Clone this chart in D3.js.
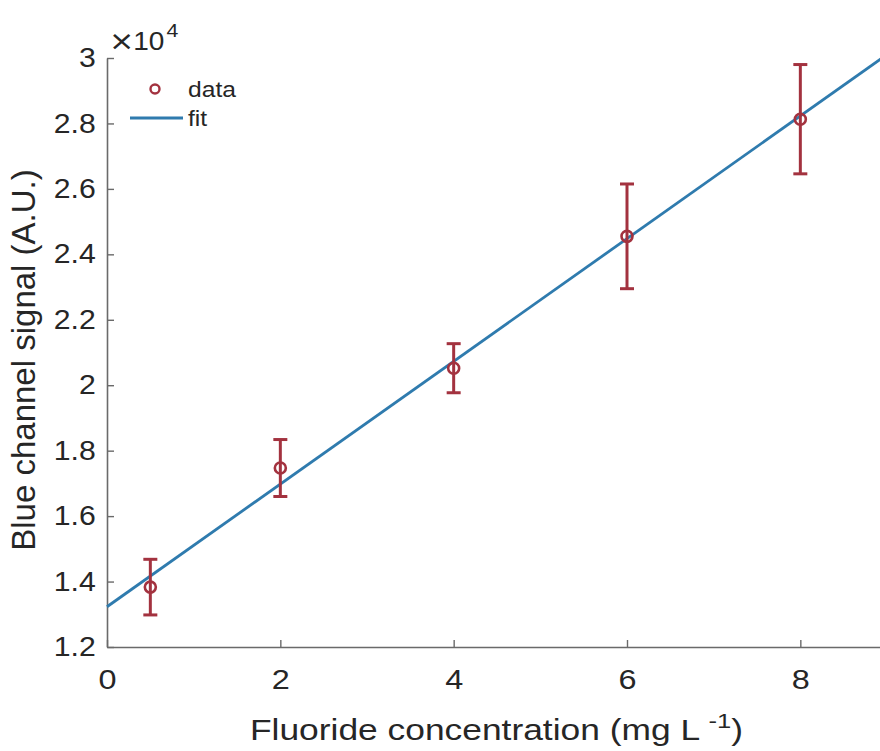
<!DOCTYPE html>
<html><head><meta charset="utf-8">
<script src="https://cdn.jsdelivr.net/npm/d3@7"></script>
<style>body{margin:0;background:#fff}svg{display:block}text{font-family:"Liberation Sans",Arial,Helvetica,sans-serif;fill:#262626}</style>
</head><body><svg id="c" width="880" height="751"></svg>
<script>
const concentrations = [0.5, 2, 4, 6, 8];
const signals = [1.383, 1.747, 2.052, 2.455, 2.813]; // x10^4
const errors = [0.085, 0.087, 0.075, 0.16, 0.167];
const fitIntercept = 1.323, fitSlope = 0.1875;
const xTicks = [0, 2, 4, 6, 8];
const yTicks = [1.2, 1.4, 1.6, 1.8, 2, 2.2, 2.4, 2.6, 2.8, 3];

const red = "#A3323F", blue = "#2F7BAE", axisCol = "#6a6a6a";
const FONT = '"Liberation Sans",Arial,Helvetica,sans-serif';
const svg = d3.select("#c");
const x = d3.scaleLinear().domain([0, 9]).range([107, 887]);
const y = d3.scaleLinear().domain([1.2, 3]).range([647, 58]);

// axes
const xa = svg.append("g").attr("transform", `translate(0,${y(1.2)})`)
  .call(d3.axisBottom(x).tickValues(xTicks).tickSizeInner(-7).tickSizeOuter(0).tickPadding(23).tickFormat(d3.format("d")));
const ya = svg.append("g").attr("transform", `translate(${x(0)},0)`)
  .call(d3.axisLeft(y).tickValues(yTicks).tickSizeInner(-7).tickSizeOuter(0).tickPadding(10).tickFormat(d => String(+d.toFixed(1))));
[xa, ya].forEach(a => {
  a.select(".domain").attr("stroke", axisCol).attr("stroke-width", 1.6);
  a.selectAll(".tick line").attr("stroke", axisCol).attr("stroke-width", 1.4);
  a.selectAll(".tick text").attr("font-size", 27).attr("fill", "#262626").style("font-family", FONT);
});
xa.selectAll(".tick text").attr("dy", "0.71em").attr("transform", "scale(1.2,1)");
ya.selectAll(".tick text").attr("transform", "scale(1.12,1)");

// exponent label
const ex = svg.append("g").attr("transform", "translate(109,50) scale(1.12,1)")
  .append("text").attr("x", 0).attr("y", 0).attr("font-size", 25);
ex.append("tspan").style("font-family", '"DejaVu Sans",sans-serif').attr("font-size", 27).text("\u00d7");
ex.append("tspan").attr("dx", -1).text("10");
ex.append("tspan").attr("dy", -13).attr("dx", 2).attr("font-size", 19).text("4");

// fit line
svg.append("line")
  .attr("x1", x(0)).attr("y1", y(fitIntercept))
  .attr("x2", x(9)).attr("y2", y(fitIntercept + fitSlope * 9))
  .attr("stroke", blue).attr("stroke-width", 2.8);

// error bars
const g = svg.append("g");
concentrations.forEach((c, i) => {
  const cx = x(c), top = y(signals[i] + errors[i]), bot = y(signals[i] - errors[i]);
  g.append("line").attr("x1", cx).attr("x2", cx).attr("y1", top).attr("y2", bot).attr("stroke", red).attr("stroke-width", 3);
  [top, bot].forEach(v => g.append("line").attr("x1", cx - 7).attr("x2", cx + 7).attr("y1", v).attr("y2", v).attr("stroke", red).attr("stroke-width", 3));
  g.append("circle").attr("cx", cx).attr("cy", y(signals[i])).attr("r", 5.5).attr("fill", "none").attr("stroke", red).attr("stroke-width", 2.6);
});

// legend
svg.append("circle").attr("cx", 155).attr("cy", 89).attr("r", 4.5).attr("fill", "none").attr("stroke", red).attr("stroke-width", 2.4);
svg.append("g").attr("transform", "translate(188,97) scale(1.12,1)").append("text").attr("font-size", 22).text("data");
svg.append("line").attr("x1", 130).attr("x2", 183).attr("y1", 118).attr("y2", 118).attr("stroke", blue).attr("stroke-width", 2.8);
svg.append("g").attr("transform", "translate(188,126) scale(1.12,1)").append("text").attr("font-size", 22).text("fit");

// axis titles
const xt = svg.append("g").attr("transform", "translate(250,740) scale(1.22,1)")
  .append("text").attr("x", 0).attr("y", 0).attr("font-size", 29);
xt.append("tspan").text("Fluoride concentration (mg L ");
xt.append("tspan").attr("dy", -12).attr("font-size", 21).text("-1");
xt.append("tspan").attr("dy", 12).text(")");
svg.append("text").attr("transform", "translate(35,360) rotate(-90)").attr("text-anchor", "middle").attr("font-size", 33)
  .text("Blue channel signal (A.U.)");
</script></body></html>
